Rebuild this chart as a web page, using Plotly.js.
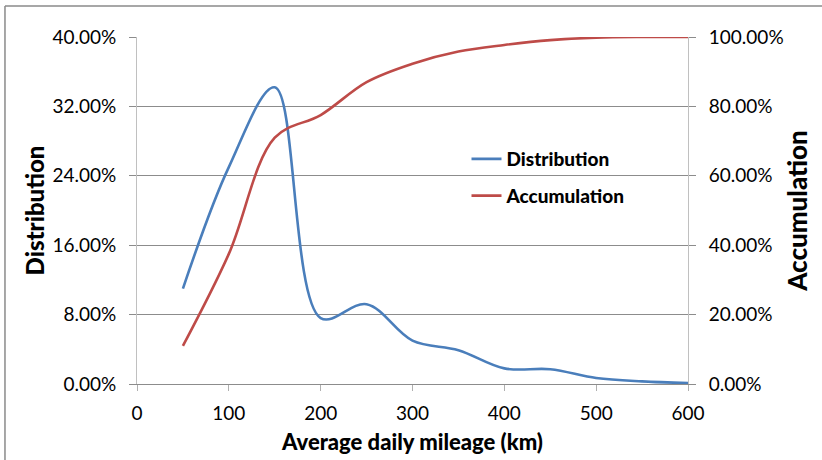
<!DOCTYPE html>
<html>
<head>
<meta charset="utf-8">
<script src="https://cdn.plot.ly/plotly-3.0.1.min.js"></script>
<style>
  html, body { margin: 0; padding: 0; background: #fff; }
  #chart { width: 822px; height: 460px; }
</style>
</head>
<body>
<div id="chart"></div>
<script>
// Data
const mileage = [50, 100, 150, 200, 250, 300, 350, 400, 450, 500, 550, 600];
const distribution = [11.0, 25.0, 34.2, 7.6, 9.2, 5.0, 3.9, 1.8, 1.7, 0.7, 0.3, 0.1];
const accumulation = [11.0, 37.5, 71.0, 77.5, 87.0, 92.3, 95.8, 97.7, 99.1, 99.8, 100, 100];
const xTicks = [0, 100, 200, 300, 400, 500, 600];

const FONT = 'Lato, "Open Sans", sans-serif';

const traces = [
  {
    x: mileage, y: distribution, name: 'Distribution', type: 'scatter', mode: 'lines',
    line: { color: '#4a7ebb', width: 2.6, shape: 'spline', smoothing: 1 },
    yaxis: 'y', legendgroup: 'a'
  },
  {
    x: mileage, y: accumulation, name: 'Accumulation', type: 'scatter', mode: 'lines',
    line: { color: '#be4b48', width: 2.6, shape: 'spline', smoothing: 1 },
    yaxis: 'y2', legendgroup: 'b'
  }
];

const layout = {
  width: 822, height: 460,
  margin: { l: 137, r: 134, t: 37, b: 76, pad: 0 },
  paper_bgcolor: '#ffffff', plot_bgcolor: '#ffffff',
  font: { family: FONT, size: 19, color: '#000' },
  showlegend: true,
  legend: {
    x: 0.598, y: 0.703, xanchor: 'left', yanchor: 'top',
    bgcolor: 'rgba(0,0,0,0)',
    font: { family: FONT, size: 19, color: '#000', weight: 900 },
    traceorder: 'grouped', tracegroupgap: 9
  },
  xaxis: {
    range: [0, 600], tickvals: xTicks, ticktext: xTicks.map(String),
    ticks: 'outside', ticklen: 6, tickcolor: '#b0b0b0',
    showgrid: false, zeroline: false,
    showline: true, linecolor: '#8c8c8c', linewidth: 1,
    ticklabelstandoff: 6,
    tickfont: { family: FONT, size: 19, color: '#000' },
    title: { text: 'Average daily mileage (km)', font: { family: FONT, size: 22, color: '#000', weight: 900 }, standoff: 11 }
  },
  yaxis: {
    range: [0, 40], dtick: 8, tick0: 0,
    tickformat: '.2f', ticksuffix: '%',
    ticks: 'outside', ticklen: 7, tickcolor: '#8c8c8c',
    showgrid: true, gridcolor: '#8c8c8c', gridwidth: 1,
    zeroline: false, showline: true, linecolor: '#c0c0c0', linewidth: 1,
    ticklabelstandoff: 9,
    tickfont: { family: FONT, size: 19, color: '#000' },
    title: { text: 'Distribution', font: { family: FONT, size: 24, color: '#000', weight: 900 }, standoff: 1 }
  },
  yaxis2: {
    range: [0, 100], dtick: 20, tick0: 0, overlaying: 'y', side: 'right',
    tickformat: '.2f', ticksuffix: '%',
    ticks: 'outside', ticklen: 7, tickcolor: '#8c8c8c',
    showgrid: false, zeroline: false, showline: true, linecolor: '#c0c0c0', linewidth: 1,
    ticklabelstandoff: 9,
    tickfont: { family: FONT, size: 19, color: '#000' },
    title: { text: 'Accumulation', font: { family: FONT, size: 26, color: '#000', weight: 900 }, standoff: 6 }
  },
  shapes: [
    { type: 'line', xref: 'paper', yref: 'paper', x0: -0.2396, x1: -0.2396, y0: 1.0893, y1: -0.25, line: { color: '#8a8a8a', width: 1.5 } },
    { type: 'line', xref: 'paper', yref: 'paper', x0: -0.2396, x1: 1.3, y0: 1.0893, y1: 1.0893, line: { color: '#8a8a8a', width: 1.5 } }
  ]
};

Plotly.newPlot('chart', traces, layout, { displayModeBar: false, staticPlot: true });
</script>
</body>
</html>
